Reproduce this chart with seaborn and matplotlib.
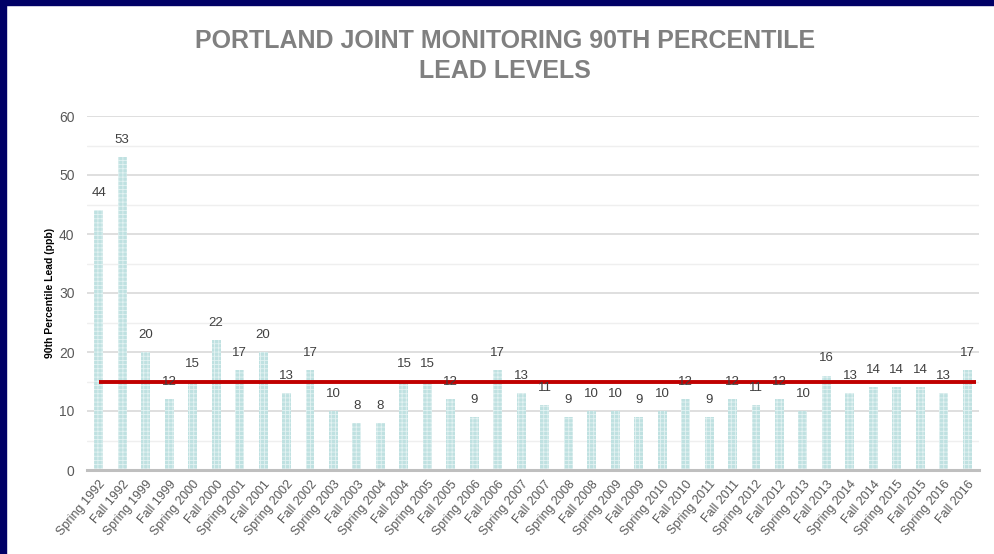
import matplotlib
matplotlib.use("Agg")
import matplotlib.pyplot as plt
import seaborn as sns
import pandas as pd
from matplotlib.patches import Rectangle

periods = ["Spring 1992", "Fall 1992", "Spring 1999", "Fall 1999", "Spring 2000", "Fall 2000",
           "Spring 2001", "Fall 2001", "Spring 2002", "Fall 2002", "Spring 2003", "Fall 2003",
           "Spring 2004", "Fall 2004", "Spring 2005", "Fall 2005", "Spring 2006", "Fall 2006",
           "Spring 2007", "Fall 2007", "Spring 2008", "Fall 2008", "Spring 2009", "Fall 2009",
           "Spring 2010", "Fall 2010", "Spring 2011", "Fall 2011", "Spring 2012", "Fall 2012",
           "Spring 2013", "Fall 2013", "Spring 2014", "Fall 2014", "Spring 2015", "Fall 2015",
           "Spring 2016", "Fall 2016"]
lead_ppb = [44, 53, 20, 12, 15, 22, 17, 20, 13, 17, 10, 8, 8, 15, 15, 12, 9, 17, 13, 11,
            9, 10, 10, 9, 10, 12, 9, 12, 11, 12, 10, 16, 13, 14, 14, 14, 13, 17]
action_level = 15
y_ticks = [0, 10, 20, 30, 40, 50, 60]

df = pd.DataFrame({"period": periods, "lead": lead_ppb})

sns.set_theme(style="white")
plt.rcParams["font.family"] = ["Liberation Sans", "DejaVu Sans"]
plt.rcParams["hatch.color"] = "#e3f2f2"
plt.rcParams["hatch.linewidth"] = 0.6

fig = plt.figure(figsize=(9.94, 5.54), dpi=100)
fig.patch.set_facecolor("white")
# navy frame at top and left
fig.add_artist(Rectangle((0, 1 - 5 / 554), 1, 5 / 554, transform=fig.transFigure,
                         color="#000066", zorder=10))
fig.add_artist(Rectangle((0, 0), 6 / 994, 1, transform=fig.transFigure,
                         color="#000066", zorder=10))

ax = fig.add_axes([87 / 994, 1 - 470 / 554, (979 - 87) / 994, (470 - 116) / 554])

sns.barplot(data=df, x="period", y="lead", color="#bfe1e1", saturation=1, width=0.38,
            ax=ax, zorder=3)
for p in ax.patches:
    p.set_hatch("++++")
    p.set_edgecolor("#e3f2f2")
    p.set_linewidth(0)

n = len(periods)
ax.set_xlim(-0.5, n - 0.5)
ax.set_ylim(0, 60)
ax.set_yticks(y_ticks)
ax.set_yticks([5, 15, 25, 35, 45, 55], minor=True)
ax.grid(axis="y", which="major", color="#d9d9d9", linewidth=1.2, zorder=0)
ax.grid(axis="y", which="minor", color="#efefef", linewidth=1.0, zorder=0)
ax.set_axisbelow(True)
for s in ["top", "right", "left"]:
    ax.spines[s].set_visible(False)
ax.spines["bottom"].set_color("#bfbfbf")
ax.spines["bottom"].set_linewidth(2.2)
ax.spines["bottom"].set_zorder(5)

ax.tick_params(axis="y", which="both", length=0, pad=9, labelsize=10, labelcolor="#595959")
ax.tick_params(axis="x", length=0, pad=6, labelsize=9, labelcolor="#595959")
ax.set_xticks(range(n))
ax.set_xticklabels(periods, rotation=50, ha="right", va="top", rotation_mode="anchor")

ax.set_xlabel("")
ax.set_ylabel("90th Percentile Lead (ppb)", fontsize=7.5, fontweight="bold", color="#000000",
              labelpad=3)

for i, v in enumerate(lead_ppb):
    ax.annotate(str(v), (i, v), xytext=(0, 8), textcoords="offset points",
                ha="center", va="bottom", fontsize=9.5, color="#404040", zorder=6)

ax.hlines(action_level, 0, n - 1 + 0.38, color="#c00000", linewidth=2.8, zorder=4)

fig.text(0.508, 1 - 56 / 554, "PORTLAND JOINT MONITORING 90TH PERCENTILE\nLEAD LEVELS",
         ha="center", va="center", fontsize=18, fontweight="bold", color="#808080",
         linespacing=1.3)

fig.savefig("out.png", dpi=100, facecolor="white")
